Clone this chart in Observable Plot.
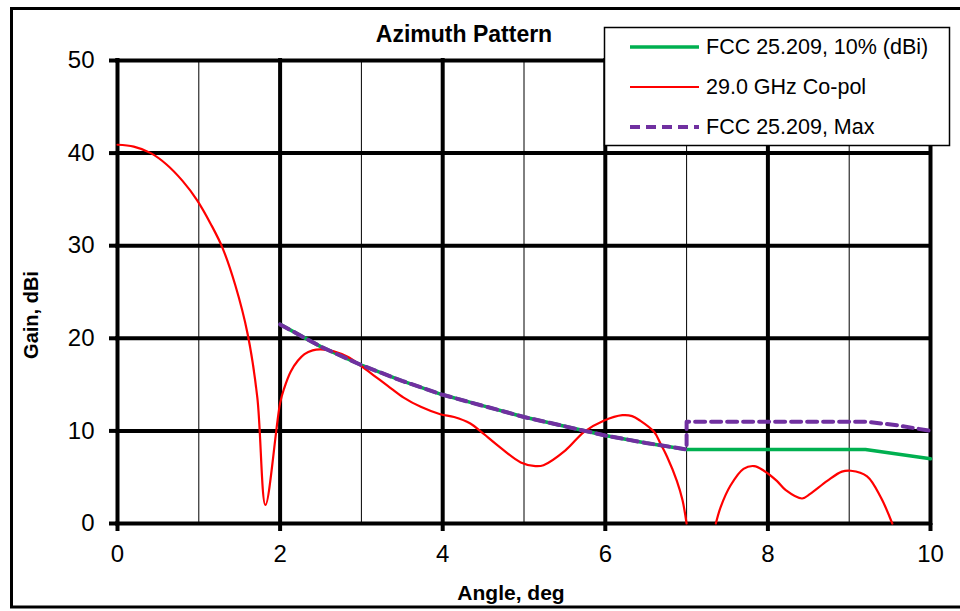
<!DOCTYPE html>
<html><head><meta charset="utf-8">
<script src="https://cdn.jsdelivr.net/npm/d3@7"></script>
<script src="https://cdn.jsdelivr.net/npm/@observablehq/plot@0.6"></script>
<style>
html,body{margin:0;padding:0;background:#fff;}
</style></head><body><div id="chart"></div>
<script>
// ---- data ----
const title = "Azimuth Pattern";
const xTitle = "Angle, deg";
const yTitle = "Gain, dBi";
const seriesNames = ["FCC 25.209, 10% (dBi)", "29.0 GHz Co-pol", "FCC 25.209, Max"];
const seriesColors = ["#00B050", "#FF0000", "#7030A0"];

const xTicks = [0, 2, 4, 6, 8, 10];
const xMinor = [1, 3, 5, 7, 9];
const yTicks = [0, 10, 20, 30, 40, 50];

// 29.0 GHz Co-pol (null = below axis / gap)
const redAngle = [0, 0.2, 0.41, 0.6, 0.8, 0.98, 1.15, 1.29, 1.45, 1.6, 1.72, 1.82, 2.0, 2.05, 2.13, 2.22, 2.3, 2.4, 2.5, 2.66, 2.83, 2.97, 3.15, 3.32, 3.52, 3.73, 3.97, 4.14, 4.34, 4.46, 4.71, 4.96, 5.14, 5.24, 5.51, 5.74, 5.98, 6.21, 6.33, 6.43, 6.6, 6.68, 6.76, 6.88, 6.95, 7.0, 7.2, 7.36, 7.42, 7.54, 7.7, 7.83, 7.95, 8.11, 8.22, 8.42, 8.52, 8.73, 8.91, 9.02, 9.22, 9.39, 9.53];
const redGain  = [40.9, 40.7, 40.0, 38.8, 37.0, 34.9, 32.3, 29.8, 25.7, 20.5, 13.6, 2.0, 13.0, 14.6, 16.4, 17.6, 18.3, 18.7, 18.8, 18.6, 18.0, 17.2, 16.0, 14.9, 13.6, 12.6, 11.8, 11.5, 10.8, 10.0, 8.2, 6.6, 6.2, 6.3, 7.9, 9.9, 11.1, 11.7, 11.6, 11.1, 9.9, 8.6, 7.2, 4.6, 2.5, 0, null, 0, 1.8, 4.1, 5.9, 6.2, 5.7, 4.6, 3.6, 2.7, 3.2, 4.6, 5.6, 5.7, 5.1, 2.8, 0];

// FCC 25.209, 10%
const greenAngle = [2, 2.5, 3, 3.5, 4, 4.5, 5, 5.5, 6, 6.5, 7, 9.2, 10];
const greenGain  = [21.5, 19.1, 17.1, 15.4, 13.9, 12.7, 11.5, 10.5, 9.5, 8.7, 8.0, 8.0, 7.0];

// FCC 25.209, Max
const purpleAngle = [2, 2.5, 3, 3.5, 4, 4.5, 5, 5.5, 6, 6.5, 7, 7, 9.2, 9.6, 10];
const purpleGain  = [21.5, 19.1, 17.1, 15.4, 13.9, 12.7, 11.5, 10.5, 9.5, 8.7, 8.0, 11.0, 11.0, 10.6, 10.0];

// ---- build ----
const toRows = (a, g) => a.map((x, i) => ({angle: x, gain: g[i]}));
const red = toRows(redAngle, redGain);
const green = toRows(greenAngle, greenGain);
const purple = toRows(purpleAngle, purpleGain);

const font = "'Liberation Sans', Arial, Helvetica, sans-serif";

const plot = Plot.plot({
  width: 960, height: 611,
  marginLeft: 117, marginRight: 30, marginTop: 60, marginBottom: 88,
  style: {fontFamily: font, background: "white", color: "#000"},
  x: {domain: [0, 10]},
  y: {domain: [0, 50]},
  marks: [
    Plot.ruleX(xMinor, {x: d => d, stroke: "#000", strokeWidth: 1}),
    Plot.ruleX(xTicks, {x: d => d, stroke: "#000", strokeWidth: 4, strokeLinecap: "square"}),
    Plot.ruleY(yTicks, {y: d => d, stroke: "#000", strokeWidth: 4, strokeLinecap: "square"}),
    Plot.axisX({ticks: xTicks, tickSize: 8, strokeWidth: 4, fontSize: 24, tickPadding: 13, label: null, tickFormat: d => String(d)}),
    Plot.axisY({ticks: yTicks, tickSize: 8, strokeWidth: 4, fontSize: 24, tickPadding: 15, label: null, tickFormat: d => String(d)}),
    Plot.line(green, {x: "angle", y: "gain", stroke: seriesColors[0], strokeWidth: 3.5}),
    Plot.line(red, {x: "angle", y: "gain", stroke: seriesColors[1], strokeWidth: 2.2, curve: "catmull-rom"}),
    Plot.line(purple, {x: "angle", y: "gain", stroke: seriesColors[2], strokeWidth: 4, strokeDasharray: "10,6"})
  ]
});

const svg = d3.select(plot);

// outer chart frame
svg.append("rect").attr("x", 11.5).attr("y", 8.5).attr("width", 1000).attr("height", 598.5)
  .attr("fill", "none").attr("stroke", "#000").attr("stroke-width", 3);

// title
svg.append("text").attr("x", 464).attr("y", 42).attr("text-anchor", "middle")
  .attr("font-family", font).attr("font-weight", "bold").attr("font-size", 23).text(title);

// axis titles
svg.append("text").attr("x", 511).attr("y", 600).attr("text-anchor", "middle")
  .attr("font-family", font).attr("font-weight", "bold").attr("font-size", 21).text(xTitle);
svg.append("text").attr("transform", "translate(38,315) rotate(-90)").attr("text-anchor", "middle")
  .attr("font-family", font).attr("font-weight", "bold").attr("font-size", 20).text(yTitle);

// legend
const lg = svg.append("g");
lg.append("rect").attr("x", 604.5).attr("y", 27.5).attr("width", 345).attr("height", 118)
  .attr("fill", "#fff").attr("stroke", "#000").attr("stroke-width", 1.5);
const rowsY = [47, 87, 127];
const widths = [3.5, 2.2, 4];
const dashes = [null, null, "10,6"];
seriesNames.forEach((name, i) => {
  const l = lg.append("line").attr("x1", 630).attr("x2", 699).attr("y1", rowsY[i]).attr("y2", rowsY[i])
    .attr("stroke", seriesColors[i]).attr("stroke-width", widths[i]);
  if (dashes[i]) l.attr("stroke-dasharray", dashes[i]);
  lg.append("text").attr("x", 706).attr("y", rowsY[i] + 7).attr("text-anchor", "start")
    .attr("font-family", font).attr("font-size", 21.5).text(name);
});

document.getElementById("chart").appendChild(plot);
</script>
</body></html>
